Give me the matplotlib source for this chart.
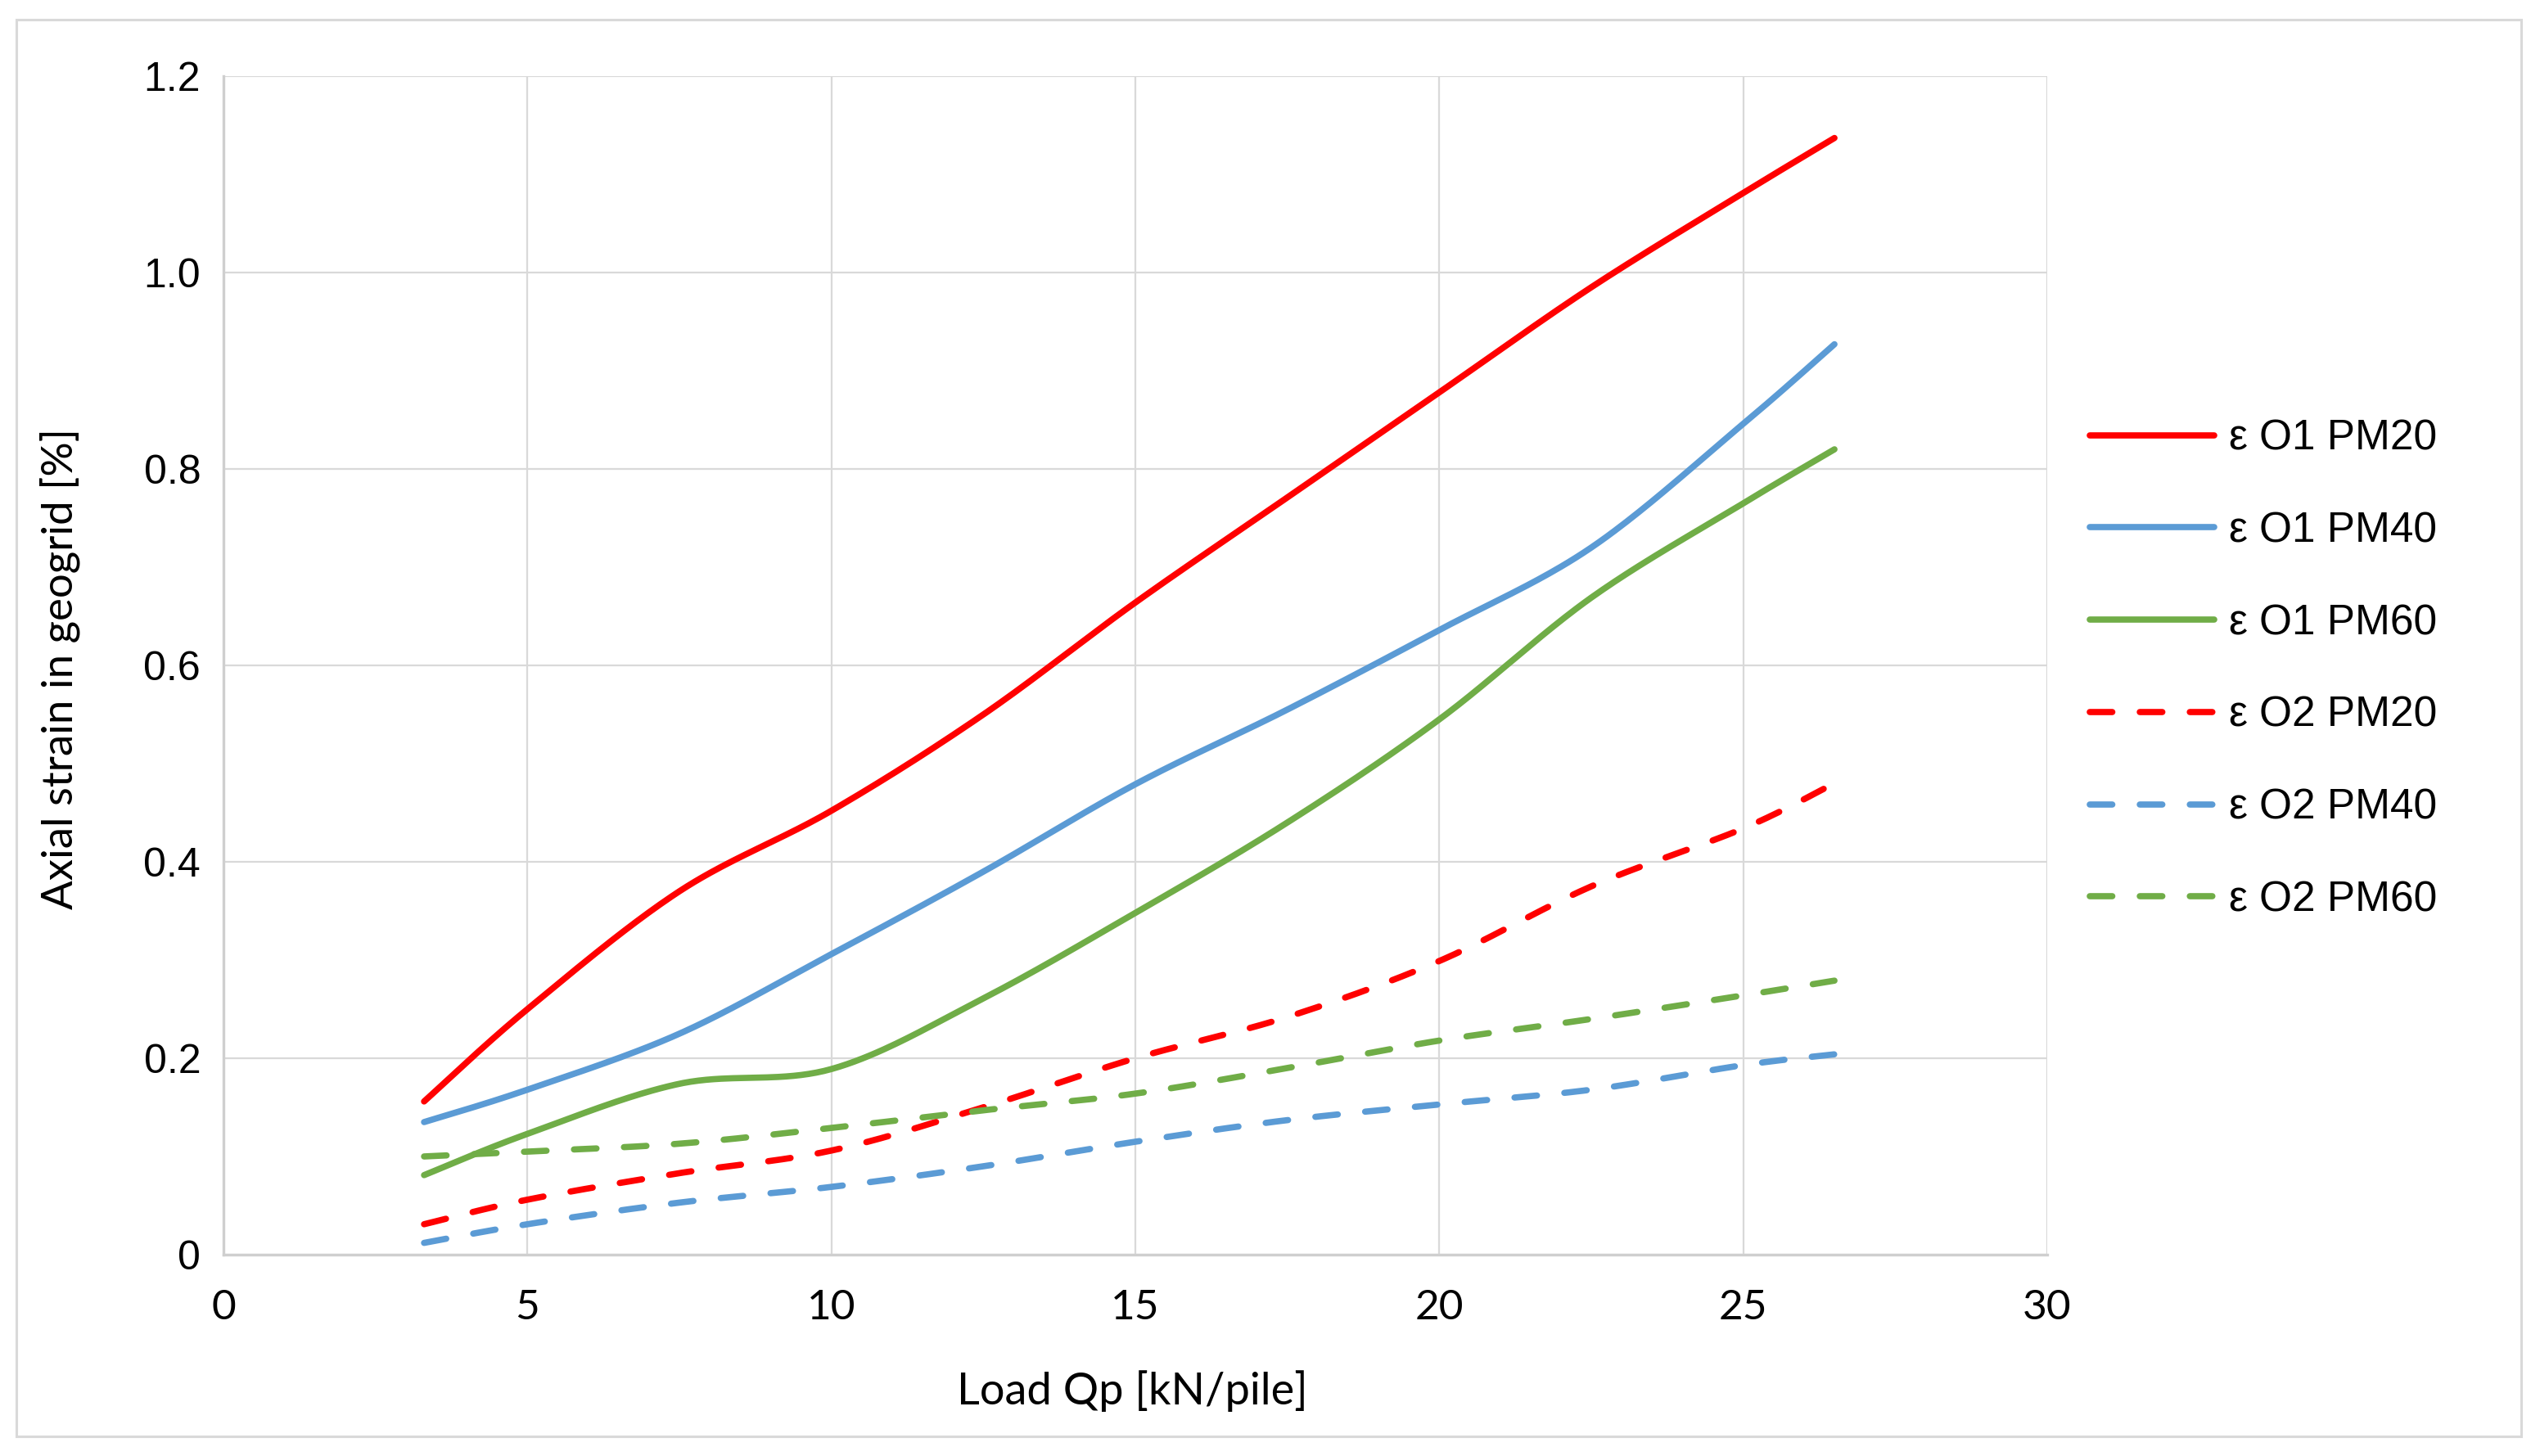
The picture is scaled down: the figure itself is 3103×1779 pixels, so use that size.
#!/usr/bin/env python3
from __future__ import annotations

import matplotlib
matplotlib.use("Agg")
import matplotlib.pyplot as plt
import numpy as np
from matplotlib.patches import Rectangle

# load steps [kN/pile]
load_qp = [3.3, 5, 7.5, 10, 12.5, 15, 17.5, 20, 22.5, 25, 26.5]

# axial strain [%]
o1_pm20 = [0.156, 0.250, 0.370, 0.452, 0.550, 0.664, 0.771, 0.878, 0.985, 1.081, 1.137]
o1_pm40 = [0.135, 0.168, 0.225, 0.306, 0.390, 0.479, 0.555, 0.636, 0.720, 0.846, 0.927]
o1_pm60 = [0.081, 0.123, 0.174, 0.189, 0.261, 0.348, 0.440, 0.545, 0.669, 0.765, 0.820]
o2_pm20 = [0.031, 0.056, 0.083, 0.106, 0.150, 0.200, 0.242, 0.299, 0.375, 0.434, 0.480]
o2_pm40 = [0.012, 0.031, 0.053, 0.069, 0.090, 0.115, 0.137, 0.153, 0.168, 0.193, 0.204]
o2_pm60 = [0.100, 0.105, 0.113, 0.129, 0.147, 0.164, 0.190, 0.218, 0.240, 0.264, 0.279]

labels = ["ε O1 PM20", "ε O1 PM40", "ε O1 PM60", "ε O2 PM20", "ε O2 PM40", "ε O2 PM60"]
x_ticks = [0, 5, 10, 15, 20, 25, 30]
y_ticks = [0, 0.2, 0.4, 0.6, 0.8, 1.0, 1.2]
y_tick_labels = ["0", "0.2", "0.4", "0.6", "0.8", "1.0", "1.2"]

RED = "#FF0000"
BLUE = "#5B9BD5"
GREEN = "#70AD47"
GRID = "#D9D9D9"

W, H = 3103, 1779


def smooth(x, y, n=40):
    # excel-style smoothed line: cubic bezier with 1/6 neighbour tangents
    pts = np.column_stack([x, y]).astype(float)
    pad = np.vstack([pts[0], pts, pts[-1]])
    t = np.linspace(0, 1, n, endpoint=False)[:, None]
    out = []
    for i in range(len(pts) - 1):
        p0, p1, p2, p3 = pad[i], pad[i + 1], pad[i + 2], pad[i + 3]
        c1 = p1 + (p2 - p0) / 6
        c2 = p2 - (p3 - p1) / 6
        seg = (1 - t) ** 3 * p1 + 3 * (1 - t) ** 2 * t * c1 + 3 * (1 - t) * t ** 2 * c2 + t ** 3 * p2
        out.append(seg)
    out.append(pts[-1][None])
    res = np.vstack(out)
    return res[:, 0], res[:, 1]


def main() -> None:
    fig = plt.figure(figsize=(W / 100, H / 100), dpi=100)
    fig.patch.set_facecolor("white")

    # thin grey frame around the whole chart
    fig.add_artist(Rectangle((20 / W, 1 - 1755 / H), 3060 / W, 1731 / H,
                             transform=fig.transFigure, fill=False,
                             edgecolor=GRID, linewidth=2.2))

    ax = fig.add_axes([273 / W, 1 - 1533 / H, (2501 - 273) / W, (1533 - 93) / H])

    dash = (0, (3.6, 4.4))
    series = [
        (o1_pm20, RED, "-"),
        (o1_pm40, BLUE, "-"),
        (o1_pm60, GREEN, "-"),
        (o2_pm20, RED, dash),
        (o2_pm40, BLUE, dash),
        (o2_pm60, GREEN, dash),
    ]
    for (vals, color, ls), label in zip(series, labels):
        sx, sy = smooth(load_qp, vals)
        ax.plot(sx, sy, color=color, linestyle=ls, linewidth=5.5,
                dash_capstyle="round", solid_capstyle="round", label=label)

    ax.set_xlim(0, 30)
    ax.set_ylim(0, 1.2)
    ax.set_xticks(x_ticks)
    ax.set_yticks(y_ticks)
    ax.set_yticklabels(y_tick_labels)
    ax.grid(True, color=GRID, linewidth=1.6)
    ax.set_axisbelow(True)
    for side in ["top", "right"]:
        ax.spines[side].set_visible(False)
    for side in ["left", "bottom"]:
        ax.spines[side].set_color("#CFCFCF")
        ax.spines[side].set_linewidth(2.4)
    ax.tick_params(length=0)
    ax.tick_params(axis="y", pad=20)
    ax.tick_params(axis="x", pad=30)
    for t in ax.get_yticklabels():
        t.set_fontfamily("Liberation Sans")
        t.set_fontsize(36)
    for t in ax.get_xticklabels():
        t.set_fontfamily("Lato")
        t.set_fontsize(37)

    fig.text(1383 / W, 1 - 1700 / H, "Load Qp [kN/pile]", family="Lato",
             fontsize=39, ha="center", va="center")
    fig.text(73 / W, 1 - 817 / H, "Axial strain in geogrid [%]", family="Lato",
             fontsize=38, rotation=90, ha="center", va="center")

    ax.legend(loc="center left", bbox_to_anchor=(2553 / W, 1 - 818 / H),
              bbox_transform=fig.transFigure, frameon=False,
              prop={"family": "Liberation Sans", "size": 37},
              handlelength=2.96, handletextpad=0.35, labelspacing=1.24,
              borderpad=0, borderaxespad=0)

    fig.savefig("out.png", dpi=100, facecolor="white")
    plt.close(fig)


if __name__ == "__main__":
    main()
